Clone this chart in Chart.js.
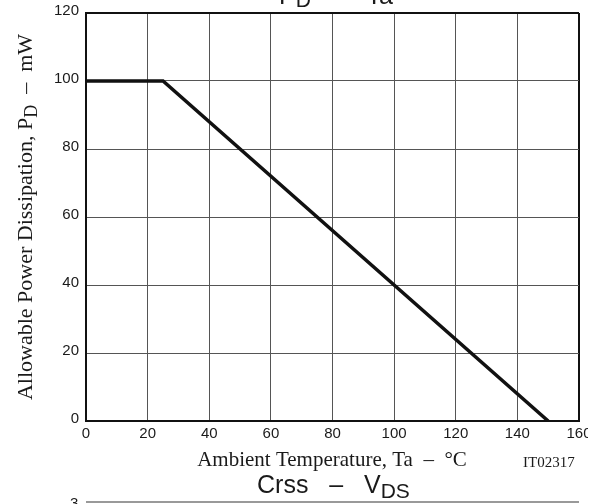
<!DOCTYPE html>
<html>
<head>
<meta charset="utf-8">
<script src="https://cdn.jsdelivr.net/npm/chart.js@4/dist/chart.umd.min.js"></script>
<style>
  html, body { margin: 0; padding: 0; background: #fff; }
  #pdChart { display: block; }
</style>
</head>
<body>
<canvas id="pdChart" width="600" height="504"></canvas>
<script>
// PD - Ta derating curve
const tempC = [0, 25, 150];
const powerMw = [100, 100, 0];

const xTicks = [0, 20, 40, 60, 80, 100, 120, 140, 160];
const yTicks = [0, 20, 40, 60, 80, 100, 120];

const SANS = '"Liberation Sans", Arial, sans-serif';
const SERIF = '"Liberation Serif", "Times New Roman", serif';

// draws a row of text pieces (for subscripts), starting at x
function drawParts(ctx, parts, x, y) {
  let cx = x;
  parts.forEach(p => {
    ctx.font = p.font;
    ctx.fillText(p.t, cx, y + (p.dy || 0));
    cx += ctx.measureText(p.t).width;
  });
  return cx;
}

function partsWidth(ctx, parts) {
  let w = 0;
  parts.forEach(p => {
    ctx.font = p.font;
    w += ctx.measureText(p.t).width;
  });
  return w;
}

const textPlugin = {
  id: 'datasheetText',
  afterDraw(chart) {
    const ctx = chart.ctx;
    ctx.save();
    ctx.fillStyle = '#1a1a1a';
    ctx.textBaseline = 'alphabetic';
    ctx.textAlign = 'left';

    // cut off title at top
    drawParts(ctx, [
      { t: 'P', font: '25px ' + SANS },
      { t: 'D', font: '21px ' + SANS, dy: 3 },
      { t: '   \u2013   Ta', font: '25px ' + SANS },
    ], 279, 4);

    // y axis title, rotated
    const yParts = [
      { t: 'Allowable Power Dissipation, P', font: '22px ' + SERIF },
      { t: 'D', font: '18px ' + SERIF, dy: 5 },
      { t: '  \u2013  mW', font: '22px ' + SERIF },
    ];
    const yw = partsWidth(ctx, yParts);
    const area = chart.chartArea;
    ctx.save();
    ctx.translate(32, (area.top + area.bottom) / 2);
    ctx.rotate(-Math.PI / 2);
    drawParts(ctx, yParts, -yw / 2, 0);
    ctx.restore();

    // x axis title
    const xParts = [{ t: 'Ambient Temperature, Ta  \u2013  \u00b0C', font: '21px ' + SERIF }];
    const xw = partsWidth(ctx, xParts);
    drawParts(ctx, xParts, 332 - xw / 2, 466);

    ctx.font = '15px ' + SERIF;
    ctx.fillText('IT02317', 523, 467);

    // next chart's title and its top edge
    drawParts(ctx, [
      { t: 'Crss   \u2013   V', font: '25px ' + SANS },
      { t: 'DS', font: '21px ' + SANS, dy: 5 },
    ], 257, 493);

    ctx.strokeStyle = '#999';
    ctx.lineWidth = 2;
    ctx.beginPath();
    ctx.moveTo(area.left, 502);
    ctx.lineTo(area.right, 502);
    ctx.stroke();
    ctx.font = '15px ' + SANS;
    ctx.fillText('3', 70, 508);

    // right edge clip of "160" like the scan
    ctx.fillStyle = '#fff';
    ctx.fillRect(588, area.bottom + 2, 12, 24);
    ctx.restore();
  },
};

const edgeColor = (ctx, min, max) =>
  ctx.tick && (ctx.tick.value === min || ctx.tick.value === max) ? '#111' : '#555';
const edgeWidth = (ctx, min, max) =>
  ctx.tick && (ctx.tick.value === min || ctx.tick.value === max) ? 2 : 1;

new Chart(document.getElementById('pdChart'), {
  type: 'line',
  data: {
    datasets: [{
      data: tempC.map((t, i) => ({ x: t, y: powerMw[i] })),
      borderColor: '#111',
      borderWidth: 3.5,
      pointRadius: 0,
      tension: 0,
      fill: false,
    }],
  },
  options: {
    responsive: false,
    animation: false,
    devicePixelRatio: 1,
    layout: { padding: { top: 13, right: 21, left: 0, bottom: 0 } },
    plugins: { legend: { display: false }, tooltip: { enabled: false } },
    scales: {
      x: {
        type: 'linear',
        min: 0,
        max: 160,
        afterBuildTicks: s => { s.ticks = xTicks.map(v => ({ value: v })); },
        afterFit: s => { s.height = 83; s.paddingLeft = 0; s.paddingRight = 0; },
        grid: {
          drawTicks: false,
          color: c => edgeColor(c, 0, 160),
          lineWidth: c => edgeWidth(c, 0, 160),
        },
        border: { color: '#111', width: 2 },
        ticks: {
          padding: 4,
          color: '#1a1a1a',
          font: { family: SANS, size: 15 },
          maxRotation: 0,
          autoSkip: false,
        },
      },
      y: {
        min: 0,
        max: 120,
        afterBuildTicks: s => { s.ticks = yTicks.map(v => ({ value: v })); },
        afterFit: s => { s.width = 86; s.paddingTop = 0; s.paddingBottom = 0; },
        grid: {
          drawTicks: false,
          color: c => edgeColor(c, 0, 120),
          lineWidth: c => edgeWidth(c, 0, 120),
        },
        border: { color: '#111', width: 2 },
        ticks: {
          padding: 7,
          labelOffset: -2,
          color: '#1a1a1a',
          font: { family: SANS, size: 15 },
          autoSkip: false,
        },
      },
    },
  },
  plugins: [textPlugin],
});
</script>
</body>
</html>
